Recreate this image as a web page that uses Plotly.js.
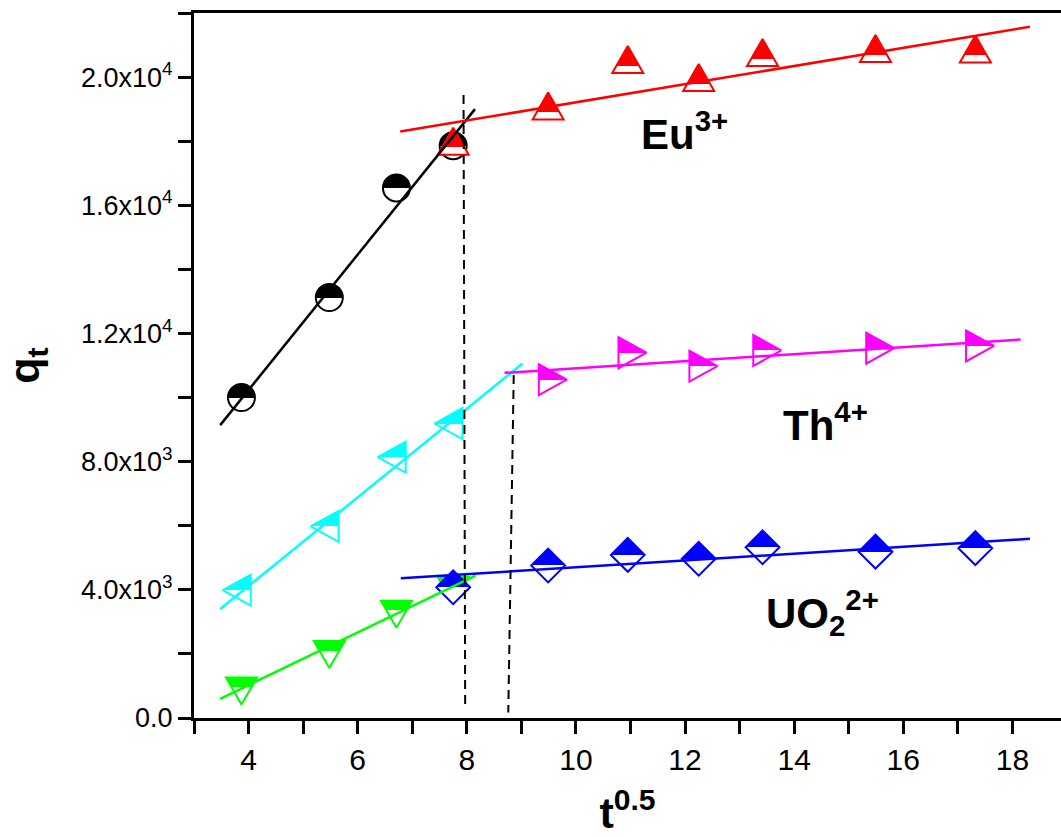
<!DOCTYPE html>
<html>
<head>
<meta charset="utf-8">
<script src="https://cdn.plot.ly/plotly-3.0.1.min.js"></script>
<style>
  html, body { margin: 0; padding: 0; background: #fff; }
  #chart { width: 1061px; height: 837px; }
</style>
</head>
<body>
<div id="chart"></div>
<script>
// Square root of contact time (t^0.5)
const tStage1 = [3.87, 5.48, 6.71, 7.75];
const tStage2 = [7.75, 9.49, 10.95, 12.25, 13.42, 15.49, 17.32];
const tStage2Th = [9.49, 10.95, 12.25, 13.42, 15.49, 17.32];

// Adsorbed amount q_t
const euStage1 = [10000, 13120, 16540, 17860];
const euStage2 = [17860, 18960, 20410, 19850, 20630, 20750, 20740];
const thStage1 = [3990, 5980, 8140, 9190];
const thStage2 = [10560, 11400, 10980, 11470, 11540, 11610];
const uStage1 = [980, 2120, 3380, 4120];
const uStage2 = [4080, 4760, 5090, 4970, 5330, 5190, 5300];

// Linear fits of the two diffusion stages (end points)
const euFit1X = [3.48, 8.15], euFit1Y = [9140, 19000];
const euFit2X = [6.78, 18.32], euFit2Y = [18300, 21570];
const thFit1X = [3.48, 9.02], thFit1Y = [3400, 11060];
const thFit2X = [8.69, 18.15], thFit2Y = [10770, 11810];
const uFit1X = [3.48, 8.16], uFit1Y = [600, 4440];
const uFit2X = [6.79, 18.32], uFit2Y = [4360, 5590];

// Stage boundaries
const guide1X = [7.94, 7.97], guide1Y = [19440, 360];
const guide2X = [8.86, 8.76], guide2Y = [10700, 170];

// Labelled axis ticks (unlabelled ticks in between come from the minor ticks)
const xTickVals = [4, 6, 8, 10, 12, 14, 16, 18];
const xTickText = ['4', '6', '8', '10', '12', '14', '16', '18'];
const yTickVals = [0, 4000, 8000, 12000, 16000, 20000];
const yTickText = ['0.0', '4.0x10<sup>3</sup>', '8.0x10<sup>3</sup>', '1.2x10<sup>4</sup>',
                   '1.6x10<sup>4</sup>', '2.0x10<sup>4</sup>'];

// Half-filled marker styles: outline shape and the filled fraction from the top
const halfStyle = {
  euA: { color: '#000000', split: 0.5 },
  euB: { color: '#ff0000', split: 0.73, path: 'M-15.5,9L15.5,9L0,-18Z' },
  thA: { color: '#00ffff', split: 0.5, path: 'M-18.7,0L9.3,-15.5L9.3,15.5Z' },
  thB: { color: '#ff00ff', split: 0.5, path: 'M18.7,0L-9.3,-15.5L-9.3,15.5Z' },
  uA:  { color: '#00ff00', split: 0.35, path: 'M-15.5,-9L15.5,-9L0,18Z' },
  uB:  { color: '#0000ff', split: 0.5 }
};

function pts(uid, x, y, symbol, size) {
  const c = halfStyle[uid].color;
  return {
    uid: uid, x: x, y: y, type: 'scatter', mode: 'markers', hoverinfo: 'skip',
    marker: { symbol: symbol, size: size, color: c, line: { color: c, width: 2 } }
  };
}
function fit(x, y, color) {
  return { x: x, y: y, type: 'scatter', mode: 'lines', hoverinfo: 'skip',
           line: { color: color, width: 2.5 } };
}
function guide(x, y) {
  return { x: x, y: y, type: 'scatter', mode: 'lines', hoverinfo: 'skip',
           line: { color: '#000', width: 2, dash: '9px,6px' } };
}

const traces = [
  pts('euA', tStage1, euStage1, 'circle', 27),
  pts('euB', tStage2, euStage2, 'triangle-up', 26),
  pts('thA', tStage1, thStage1, 'triangle-left', 26),
  pts('thB', tStage2Th, thStage2, 'triangle-right', 26),
  pts('uA', tStage1, uStage1, 'triangle-down', 26),
  pts('uB', tStage2, uStage2, 'diamond', 26),
  fit(euFit1X, euFit1Y, '#000000'),
  fit(euFit2X, euFit2Y, '#ff0000'),
  fit(thFit1X, thFit1Y, '#00ffff'),
  fit(thFit2X, thFit2Y, '#ff00ff'),
  fit(uFit1X, uFit1Y, '#00ff00'),
  fit(uFit2X, uFit2Y, '#0000ff'),
  guide(guide1X, guide1Y),
  guide(guide2X, guide2Y)
];

const FONT = 'Liberation Sans, Arial, sans-serif';
const BOLD = 'Liberation Sans, Arial, sans-serif';

const layout = {
  width: 1061, height: 837,
  margin: { l: 194, r: 0, t: 13, b: 119 },
  paper_bgcolor: '#ffffff', plot_bgcolor: '#ffffff',
  showlegend: false,
  font: { family: FONT, color: '#000' },
  xaxis: {
    range: [3, 18.89], tickmode: 'array', tickvals: xTickVals, ticktext: xTickText,
    ticks: 'outside', ticklen: 13, tickwidth: 3, tickcolor: '#000',
    minor: { tick0: 3, dtick: 1, ticks: 'outside', ticklen: 13, tickwidth: 3, tickcolor: '#000', showgrid: false },
    showline: true, linewidth: 3, linecolor: '#000', mirror: true,
    showgrid: false, zeroline: false,
    tickfont: { family: FONT, size: 30, color: '#000' },
    title: { text: '<b>t<sup>0.5</sup></b>', font: { family: BOLD, size: 43, color: '#000' }, standoff: 26 }
  },
  yaxis: {
    range: [0, 22000], tickmode: 'array', tickvals: yTickVals, ticktext: yTickText,
    ticks: 'outside', ticklen: 13, tickwidth: 3, tickcolor: '#000',
    minor: { tick0: 0, dtick: 2000, ticks: 'outside', ticklen: 13, tickwidth: 3, tickcolor: '#000', showgrid: false },
    showline: true, linewidth: 3, linecolor: '#000', mirror: false,
    showgrid: false, zeroline: false,
    tickfont: { family: FONT, size: 27, color: '#000' },
    title: { text: '<b>q<sub>t</sub></b>', font: { family: BOLD, size: 43, color: '#000' }, standoff: 44 }
  },
  annotations: [
    { x: 11.15, y: 18330, xref: 'x', yref: 'y', xanchor: 'left', yanchor: 'middle', showarrow: false,
      text: '<b>Eu<sup>3+</sup></b>', font: { family: BOLD, size: 42, color: '#000' } },
    { x: 13.75, y: 9250, xref: 'x', yref: 'y', xanchor: 'left', yanchor: 'middle', showarrow: false,
      text: '<b>Th<sup>4+</sup></b>', font: { family: BOLD, size: 42, color: '#000' } },
    { x: 13.45, y: 3300, xref: 'x', yref: 'y', xanchor: 'left', yanchor: 'middle', showarrow: false,
      text: '<b>UO<sub>2</sub><sup>2+</sup></b>', font: { family: BOLD, size: 42, color: '#000' } }
  ]
};

const gd = document.getElementById('chart');
Plotly.newPlot(gd, traces, layout, { staticPlot: true, displayModeBar: false }).then(function () {
  // Half-filled markers: swap in the outline shape and a split fill
  const ns = 'http://www.w3.org/2000/svg';
  const defs = gd.querySelector('svg.main-svg defs');
  gd.querySelectorAll('.scatterlayer .trace').forEach(function (g) {
    const cd = g.__data__;
    if (!cd || !cd[0] || !cd[0].trace) return;
    const uid = cd[0].trace.uid;
    const st = halfStyle[uid];
    if (!st) return;
    const id = 'halffill-' + uid;
    const lg = document.createElementNS(ns, 'linearGradient');
    lg.setAttribute('id', id);
    lg.setAttribute('x1', '0'); lg.setAttribute('y1', '0');
    lg.setAttribute('x2', '0'); lg.setAttribute('y2', '1');
    [[0, st.color], [st.split, st.color], [st.split, '#ffffff'], [1, '#ffffff']].forEach(function (s) {
      const stop = document.createElementNS(ns, 'stop');
      stop.setAttribute('offset', s[0]);
      stop.setAttribute('stop-color', s[1]);
      lg.appendChild(stop);
    });
    defs.appendChild(lg);
    g.querySelectorAll('path.point').forEach(function (p) {
      if (st.path) p.setAttribute('d', st.path);
      p.style.fill = 'url(#' + id + ')';
      p.style.fillOpacity = 1;
    });
  });
});
</script>
</body>
</html>
